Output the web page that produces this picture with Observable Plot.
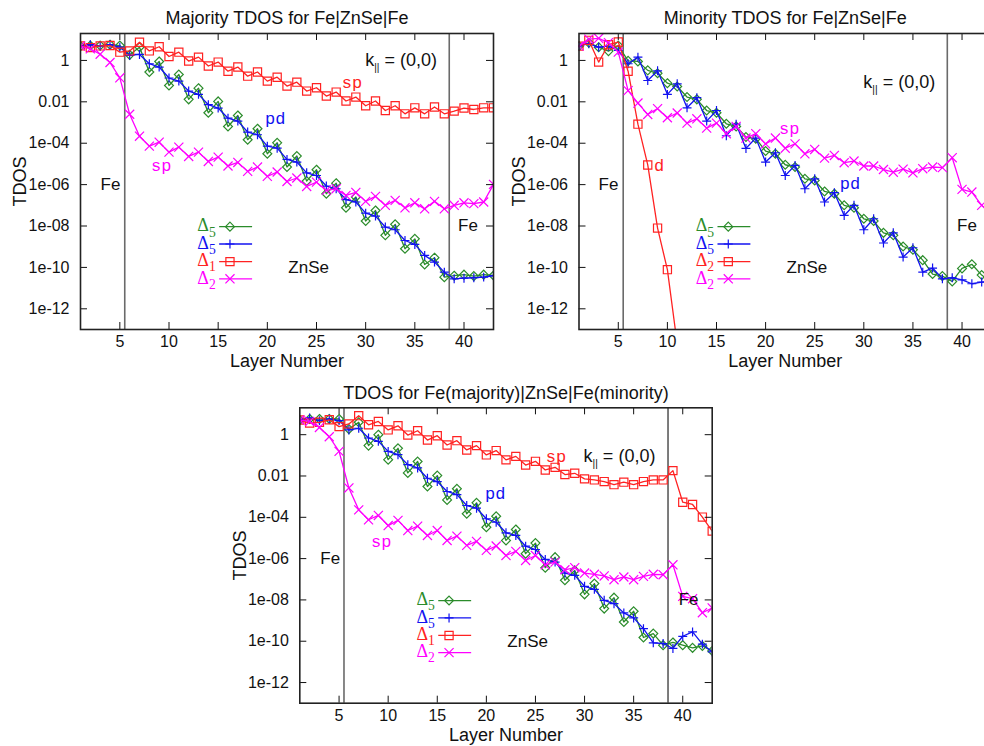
<!DOCTYPE html>
<html><head><meta charset="utf-8">
<script src="https://cdn.jsdelivr.net/npm/d3@7"></script>
<script src="https://cdn.jsdelivr.net/npm/@observablehq/plot@0.6"></script>
<style>
html,body{margin:0;padding:0;background:#fff;}
#wrap{position:relative;width:984px;height:746px;overflow:hidden;background:#fff;}
.panel{position:absolute;}
</style></head><body>
<div id="wrap"></div>
<script>
// ---------- data (TDOS, stored as log10 of the value) ----------
const layers = [1,2,3,4,5,6,7,8,9,10,11,12,13,14,15,16,17,18,19,20,21,22,23,24,25,26,27,28,29,30,31,32,33,34,35,36,37,38,39,40,41,42,43];
const xTicks = [5,10,15,20,25,30,35,40];
const yTicks = [1,1e-2,1e-4,1e-6,1e-8,1e-10,1e-12];
const yTickLabels = ["1","0.01","1e-04","1e-06","1e-08","1e-10","1e-12"];
const interfaces = [5.5, 38.5];

// Majority TDOS for Fe|ZnSe|Fe
const majD5green = [0.69,0.72,0.72,0.76,0.72,0.27,0.64,-0.56,-0.05,-1.21,-0.68,-1.88,-1.34,-2.53,-1.98,-3.19,-2.66,-3.83,-3.30,-4.51,-3.98,-5.15,-4.62,-5.83,-5.28,-6.44,-5.93,-7.12,-6.60,-7.76,-7.25,-8.45,-7.92,-9.10,-8.62,-9.86,-9.53,-10.47,-10.40,-10.35,-10.42,-10.35,-10.39];
const majD5blue = [0.69,0.76,0.69,0.76,0.64,0.24,0.29,-0.16,-0.32,-0.85,-1.00,-1.48,-1.64,-2.14,-2.30,-2.79,-2.93,-3.46,-3.59,-4.14,-4.24,-4.78,-4.91,-5.43,-5.56,-6.07,-6.20,-6.73,-6.84,-7.38,-7.52,-8.05,-8.18,-8.70,-8.89,-9.42,-9.74,-10.23,-10.55,-10.52,-10.50,-10.47,-10.40];
const majD1red = [0.70,0.62,0.70,0.72,0.40,0.46,0.88,0.46,0.66,0.19,0.40,-0.03,0.16,-0.27,-0.08,-0.52,-0.32,-0.76,-0.56,-1.00,-0.81,-1.24,-1.05,-1.48,-1.32,-1.72,-1.53,-1.96,-1.77,-2.19,-1.96,-2.42,-2.19,-2.58,-2.29,-2.58,-2.25,-2.58,-2.45,-2.30,-2.37,-2.29,-2.29];
const majD2magenta = [0.69,0.56,0.30,-0.10,-0.84,-2.60,-3.66,-4.14,-3.95,-4.43,-4.19,-4.64,-4.43,-4.88,-4.67,-5.10,-4.93,-5.36,-5.15,-5.60,-5.39,-5.85,-5.68,-6.09,-5.88,-6.28,-6.20,-6.52,-6.38,-6.81,-6.57,-7.00,-6.76,-7.12,-6.88,-7.17,-6.81,-7.17,-7.00,-6.88,-6.92,-6.84,-5.99];

// Minority TDOS for Fe|ZnSe|Fe
const minD5green = [0.69,0.85,0.64,0.45,0.72,-0.02,-0.05,-0.48,-0.62,-1.10,-1.26,-1.77,-1.88,-2.42,-2.53,-3.06,-3.19,-3.70,-3.78,-4.38,-4.51,-5.04,-5.15,-5.72,-5.80,-6.33,-6.44,-7.00,-7.12,-7.65,-7.76,-8.33,-8.45,-8.99,-9.15,-9.65,-10.32,-10.42,-10.68,-10.05,-9.85,-10.37,-10.70];
const minD5blue = [0.69,0.81,0.64,0.69,0.48,-0.16,0.16,-0.97,-0.50,-1.64,-1.13,-2.29,-1.80,-2.93,-2.42,-3.64,-3.08,-4.25,-3.75,-4.91,-4.46,-5.56,-5.07,-6.20,-5.72,-6.84,-6.39,-7.49,-7.00,-8.18,-7.65,-8.82,-8.33,-9.50,-9.05,-10.23,-10.03,-10.55,-10.50,-10.60,-10.79,-10.71,-10.66];
const minD2red = [0.69,0.97,-0.08,0.76,0.89,-0.52,-3.08,-5.05,-8.10,-10.11,-13.70];
const minD2magenta = [0.69,1.03,1.07,0.86,0.40,-1.46,-2.06,-2.61,-2.33,-2.77,-2.54,-3.03,-2.82,-3.27,-3.03,-3.54,-3.19,-3.75,-3.54,-4.03,-3.75,-4.24,-4.03,-4.51,-4.30,-4.72,-4.59,-4.94,-4.86,-5.10,-5.10,-5.27,-5.40,-5.25,-5.43,-5.23,-5.15,-5.18,-4.70,-6.23,-6.36,-7.00,-7.40];

// TDOS for Fe(majority)|ZnSe|Fe(minority)
const mixD5green = [0.71,0.76,0.76,0.76,0.76,0.27,0.60,-0.53,0.00,-1.21,-0.66,-1.85,-1.30,-2.51,-1.98,-3.16,-2.62,-3.83,-3.30,-4.48,-3.95,-5.12,-4.59,-5.76,-5.25,-6.44,-5.93,-7.05,-6.57,-7.73,-7.21,-8.42,-7.89,-9.07,-8.55,-9.82,-9.63,-10.19,-10.06,-10.19,-10.32,-10.23,-10.47];
const mixD5blue = [0.71,0.81,0.68,0.76,0.68,0.23,0.31,-0.16,-0.32,-0.81,-0.97,-1.45,-1.61,-2.11,-2.27,-2.75,-2.90,-3.43,-3.56,-4.07,-4.24,-4.75,-4.88,-5.40,-5.56,-6.04,-6.17,-6.70,-6.81,-7.34,-7.49,-8.02,-8.18,-8.63,-8.87,-9.39,-10.08,-10.11,-10.35,-9.76,-9.55,-10.14,-10.52];
const mixD1red = [0.71,0.56,0.60,0.72,0.39,0.52,0.92,0.48,0.64,0.23,0.43,-0.02,0.19,-0.26,-0.05,-0.50,-0.29,-0.74,-0.53,-0.98,-0.77,-1.22,-1.05,-1.47,-1.29,-1.71,-1.58,-1.93,-1.87,-2.14,-2.19,-2.27,-2.42,-2.30,-2.42,-2.27,-2.19,-2.19,-1.74,-3.27,-3.38,-3.99,-4.67];
const mixD2magenta = [0.71,0.64,0.35,-0.10,-0.81,-2.58,-3.64,-4.12,-3.91,-4.40,-4.15,-4.64,-4.43,-4.88,-4.64,-5.12,-4.91,-5.36,-5.17,-5.60,-5.39,-5.85,-5.65,-6.09,-5.85,-6.30,-6.17,-6.54,-6.44,-6.70,-6.76,-6.84,-7.02,-6.89,-7.02,-6.86,-6.76,-6.78,-6.30,-7.83,-7.94,-8.62,-8.39];

// ---------- styling ----------
const GREEN = "#2b8c2b", BLUE = "#1212f0", RED = "#ff2222", MAGENTA = "#ff00ff";
const SANS = "Liberation Sans, Arial, Helvetica, sans-serif";
const SERIF = "Liberation Serif, DejaVu Serif, serif";
const MONO = "Liberation Mono, Courier New, monospace";
const sym = {
  green: {symbol: "diamond2", r: 4.0},
  blue: {symbol: "plus", r: 3.0},
  red: {symbol: "square2", r: 5.2},
  magenta: {symbol: "times", r: 4.2}
};
const legendRowsExp = [-8.03, -8.87, -9.72, -10.55];

const panels = [
  {
    left: 0, top: 0, width: 500, height: 372, margin: {l: 80, r: 7, t: 33, b: 43},
    title: "Majority TDOS for Fe|ZnSe|Fe",
    series: [
      {values: majD5green, color: GREEN, kind: "green", label: "Δ_{5}"},
      {values: majD5blue, color: BLUE, kind: "blue", label: "Δ_{5}"},
      {values: majD1red, color: RED, kind: "red", label: "Δ_{1}"},
      {values: majD2magenta, color: MAGENTA, kind: "magenta", label: "Δ_{2}"}
    ],
    notes: [
      {x: 28.6, e: -1.05, text: "sp", color: RED},
      {x: 20.8, e: -2.80, text: "pd", color: BLUE},
      {x: 9.2, e: -5.06, text: "sp", color: MAGENTA}
    ],
    regions: [{x: 4.05, e: -6, t: "Fe"}, {x: 40.4, e: -8, t: "Fe"}, {x: 24.2, e: -10, t: "ZnSe"}],
    k: {x: 29.95, e: 0.0},
    lines: [{c: "#6a6a6a", w: 1.6}, {c: "#6a6a6a", w: 1.6}]
  },
  {
    left: 490, top: 0, width: 510, height: 372, margin: {l: 88.5, r: 9, t: 33, b: 43},
    title: "Minority TDOS for Fe|ZnSe|Fe",
    series: [
      {values: minD5green, color: GREEN, kind: "green", label: "Δ_{5}"},
      {values: minD5blue, color: BLUE, kind: "blue", label: "Δ_{5}"},
      {values: minD2red, color: RED, kind: "red", label: "Δ_{2}"},
      {values: minD2magenta, color: MAGENTA, kind: "magenta", label: "Δ_{2}"}
    ],
    notes: [
      {x: 22.4, e: -3.30, text: "sp", color: MAGENTA},
      {x: 28.6, e: -5.95, text: "pd", color: BLUE},
      {x: 9.15, e: -5.06, text: "d", color: RED}
    ],
    regions: [{x: 4.0, e: -6, t: "Fe"}, {x: 40.5, e: -8, t: "Fe"}, {x: 24.2, e: -10, t: "ZnSe"}],
    k: {x: 29.95, e: -1.06},
    lines: [{c: "#6a6a6a", w: 1.6}, {c: "#6a6a6a", w: 1.6}]
  },
  {
    left: 240, top: 380, width: 480, height: 370, margin: {l: 59.3, r: 8.3, t: 27.3, b: 47.3},
    title: "TDOS for Fe(majority)|ZnSe|Fe(minority)",
    series: [
      {values: mixD5green, color: GREEN, kind: "green", label: "Δ_{5}"},
      {values: mixD5blue, color: BLUE, kind: "blue", label: "Δ_{5}"},
      {values: mixD1red, color: RED, kind: "red", label: "Δ_{1}"},
      {values: mixD2magenta, color: MAGENTA, kind: "magenta", label: "Δ_{2}"}
    ],
    notes: [
      {x: 27.1, e: -1.06, text: "sp", color: RED},
      {x: 20.9, e: -2.83, text: "pd", color: BLUE},
      {x: 9.3, e: -5.15, text: "sp", color: MAGENTA}
    ],
    regions: [{x: 4.1, e: -6, t: "Fe"}, {x: 40.6, e: -8, t: "Fe"}, {x: 24.2, e: -10, t: "ZnSe"}],
    k: {x: 29.9, e: -1.06},
    lines: [{c: "#6a6a6a", w: 1.6}, {c: "#111", w: 1.1}]
  }
];

function subscriptify(svg) {
  d3.select(svg).selectAll("text").each(function () {
    const t = this.textContent;
    const m = t.match(/^(.*?)_\{(.*?)\}(.*)$/);
    if (!m) return;
    const el = d3.select(this);
    const fs = parseFloat(this.getAttribute("font-size")) || 17;
    const ratio = m[2] === "||" ? 0.6 : 0.8;
    const shift = m[2] === "||" ? 0.28 : 0.3;
    el.text(null);
    el.append("tspan").text(m[1]);
    el.append("tspan").attr("dy", fs * shift).attr("font-size", fs * ratio).text(m[2]);
    if (m[3]) el.append("tspan").attr("dy", -fs * shift).text(m[3]);
  });
}

function makePanel(p) {
  const m = p.margin;
  const fw = p.width - m.l - m.r, fh = p.height - m.t - m.b;
  const rows = (exps) => exps.map((e, i) => ({layer: layers[i], tdos: Math.pow(10, e)}));
  const marks = [];
  interfaces.forEach((xv, i) => marks.push(Plot.ruleX([xv], {stroke: p.lines[i].c, strokeWidth: p.lines[i].w})));
  for (const s of p.series) {
    const data = rows(s.values);
    marks.push(Plot.line(data, {x: "layer", y: "tdos", stroke: s.color, strokeWidth: 1.3, clip: true}));
    marks.push(Plot.dot(data, {x: "layer", y: "tdos", stroke: s.color, fill: "none", strokeWidth: 1.2,
      symbol: sym[s.kind].symbol, r: sym[s.kind].r, clip: true}));
  }
  // legend (inside the plot area)
  p.series.forEach((s, i) => {
    const yv = Math.pow(10, legendRowsExp[i]);
    marks.push(Plot.link([0], {x1: 15.1, x2: 18.45, y1: yv, y2: yv, stroke: s.color, strokeWidth: 1.3}));
    marks.push(Plot.dot([0], {x: 16.2, y: yv, stroke: s.color, fill: "none", strokeWidth: 1.2,
      symbol: sym[s.kind].symbol, r: sym[s.kind].r}));
    marks.push(Plot.text([s.label], {x: 14.75, y: yv, textAnchor: "end", lineAnchor: "middle", fill: s.color, fontSize: 18,
      fontFamily: SERIF, dy: -1}));
  });
  // curve annotations
  for (const n of p.notes) {
    marks.push(Plot.text([n.text], {x: n.x, y: Math.pow(10, n.e), fill: n.color, fontSize: 17, fontFamily: MONO}));
  }
  for (const r of p.regions) {
    marks.push(Plot.text([r.t], {x: r.x, y: Math.pow(10, r.e), fontSize: 17, fontFamily: SANS, fill: "#111"}));
  }
  marks.push(Plot.text(["k_{||} = (0,0)"], {x: p.k.x, y: Math.pow(10, p.k.e), textAnchor: "start", lineAnchor: "middle",
    fontSize: 18, fontFamily: SANS, fill: "#111"}));
  // inward mirrored ticks
  marks.push(Plot.tickX(xTicks, {x: d => d, insetTop: fh - 7, stroke: "#111"}));
  marks.push(Plot.tickX(xTicks, {x: d => d, insetBottom: fh - 7, stroke: "#111"}));
  marks.push(Plot.tickY(yTicks, {y: d => d, insetRight: fw - 7, stroke: "#111"}));
  marks.push(Plot.tickY(yTicks, {y: d => d, insetLeft: fw - 7, stroke: "#111"}));
  // axes
  marks.push(Plot.axisX(xTicks, {anchor: "bottom", tickSize: 0, tickPadding: 6, fontSize: 16, fill: "#111", label: null}));
  marks.push(Plot.axisY(yTicks, {anchor: "left", tickSize: 0, tickPadding: 11, fontSize: 16, fill: "#111", label: null,
    tickFormat: d => yTickLabels[yTicks.indexOf(d)]}));
  marks.push(Plot.frame({stroke: "#222", strokeWidth: 1.6}));
  // titles
  marks.push(Plot.text([p.title], {frameAnchor: "top", dy: -15, lineAnchor: "middle", textAnchor: "middle",
    fontSize: 18, fontFamily: SANS, fill: "#111"}));
  marks.push(Plot.text(["Layer Number"], {frameAnchor: "bottom", dy: 32, lineAnchor: "middle", textAnchor: "middle",
    fontSize: 18, fontFamily: SANS, fill: "#111"}));
  marks.push(Plot.text(["TDOS"], {frameAnchor: "left", dx: -60, rotate: -90, lineAnchor: "middle", textAnchor: "middle",
    fontSize: 18, fontFamily: SANS, fill: "#111"}));

  const svg = Plot.plot({
    width: p.width, height: p.height,
    marginLeft: m.l, marginRight: m.r, marginTop: m.t, marginBottom: m.b,
    x: {type: "linear", domain: [1, 43], label: null},
    y: {type: "log", domain: [1e-13, 20], label: null},
    style: {fontFamily: SANS, fontSize: "16px", background: "transparent", maxWidth: "none", overflow: "visible"},
    marks
  });
  subscriptify(svg);
  const div = document.createElement("div");
  div.className = "panel";
  div.style.left = p.left + "px";
  div.style.top = p.top + "px";
  div.style.width = p.width + "px";
  div.style.height = p.height + "px";
  div.appendChild(svg);
  document.getElementById("wrap").appendChild(div);
}
panels.forEach(makePanel);
</script>
</body></html>
